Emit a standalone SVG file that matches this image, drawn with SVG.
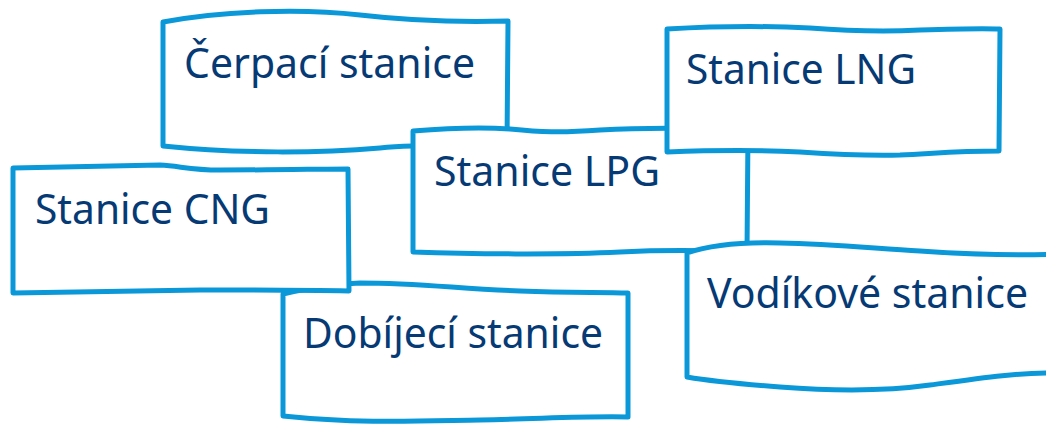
<svg xmlns="http://www.w3.org/2000/svg" width="1046" height="427" viewBox="0 0 1046 427">
<style>
.box{fill:#ffffff;stroke:#0B98D9;stroke-width:5;stroke-linejoin:round;stroke-linecap:round}
.lbl{font-family:"Noto Sans","Open Sans",sans-serif;font-size:41px;fill:#063A75}
</style>
<rect width="1046" height="427" fill="#ffffff"/>
<g id="node-cerpaci">
<path class="box" d="M163,22 C220,11 300,8 360,15 C420,22 470,22 508,21 L507,145 C450,146 420,144 380,148 C320,153 240,154 163,146 Z"/>
<text class="lbl" x="184" y="78" textLength="291" lengthAdjust="spacingAndGlyphs">Čerpací stanice</text>
</g>
<g id="node-lpg">
<path class="box" d="M413,131 C450,128 480,127 510,129 C540,132 560,133 600,130 C650,127 700,128 748,130 L747,252 C700,250 660,250 620,252 C560,255 470,254 413,252 Z"/>
<text class="lbl" x="434" y="186" textLength="226" lengthAdjust="spacingAndGlyphs">Stanice LPG</text>
</g>
<g id="node-lng">
<path class="box" d="M667,29 C720,26 770,26 810,28 C850,31 880,32 920,30 C950,29 980,28 1000,29 L999,151 C960,151 940,153 900,155 C860,156 830,154 800,152 C760,150 720,150 667,152 Z"/>
<text class="lbl" x="686" y="84" textLength="230" lengthAdjust="spacingAndGlyphs">Stanice LNG</text>
</g>
<g id="node-vodikove">
<path class="box" d="M687,253 C710,245 740,242 780,243 C830,244 870,248 920,251 C980,255 1020,256 1060,254 L1060,373 C1020,372 980,378 930,385 C880,392 820,390 780,387 C740,384 710,381 687,377 Z"/>
<text class="lbl" x="707" y="308" textLength="321" lengthAdjust="spacingAndGlyphs">Vodíkové stanice</text>
</g>
<g id="node-dobijeci">
<path class="box" d="M283,294 C310,288 330,284 360,283 C420,283 460,289 520,291 C570,293 600,292 628,293 L628,417 C580,416 540,419 480,420 C420,421 360,424 283,416 Z"/>
<text class="lbl" x="303" y="348" textLength="300" lengthAdjust="spacingAndGlyphs">Dobíjecí stanice</text>
</g>
<g id="node-cng">
<path class="box" d="M13,168 C50,167 100,166 160,165 C180,166 190,170 220,170 C280,170 320,169 348,169 L349,291 C300,290 250,290 200,290 C130,291 70,292 13,293 Z"/>
<text class="lbl" x="35" y="224" textLength="235" lengthAdjust="spacingAndGlyphs">Stanice CNG</text>
</g>
</svg>
